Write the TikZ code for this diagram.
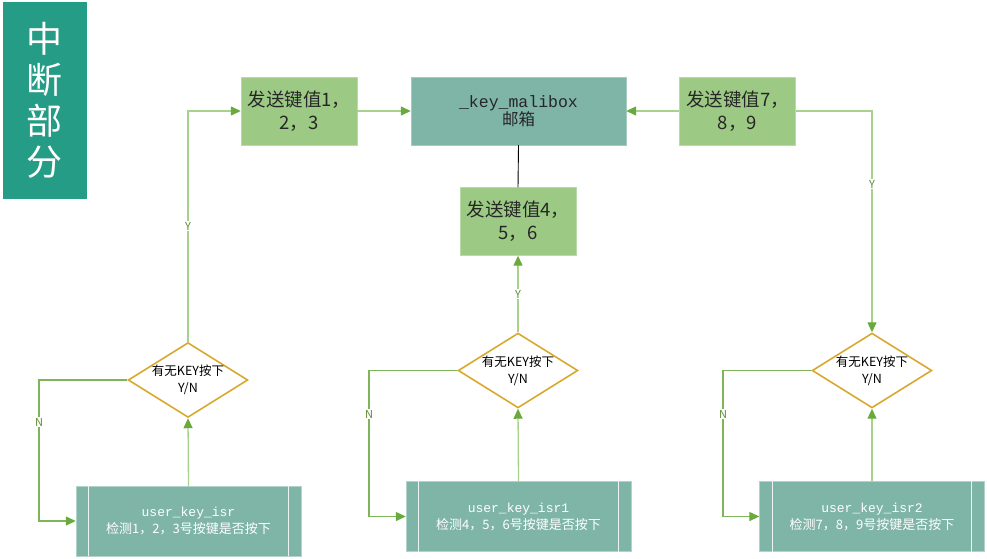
\documentclass[tikz,border=0pt]{standalone}
\usepackage{fontspec}
\setmainfont{Noto Sans CJK SC}
\newfontfamily\monof{Liberation Mono}
\usetikzlibrary{shapes.geometric,arrows.meta}
\definecolor{titlec}{HTML}{249C86}
\definecolor{greenbox}{HTML}{9CCA84}
\definecolor{tealbox}{HTML}{7FB5A7}
\definecolor{goldc}{HTML}{D9A82E}
\definecolor{lightln}{HTML}{A9D18E}
\definecolor{darkln}{HTML}{7FB55A}
\definecolor{tipc}{HTML}{6AAA3C}
\definecolor{lblc}{HTML}{5B8C32}
\tikzset{
  sendbox/.style={rectangle, fill=greenbox, draw=greenbox!70!white, minimum width=116pt, minimum height=68pt, inner sep=0pt, align=center, text=black!85, font=\fontsize{18.5}{23}\selectfont},
  mailbox/.style={rectangle, fill=tealbox, draw=tealbox!70!white, minimum width=215pt, minimum height=68pt, inner sep=0pt, align=center, text=black!85},
  procbox/.style={rectangle, fill=tealbox, draw=tealbox!60!white, minimum width=225pt, minimum height=70pt, inner sep=0pt, align=center, text=white, font=\fontsize{13}{17}\selectfont},
  decbox/.style={diamond, draw=goldc, line width=1.6pt, fill=white, minimum width=118pt, minimum height=72pt, inner sep=0pt, aspect=1.6, align=center, font=\fontsize{12.5}{17}\selectfont},
  flow/.style={draw=lightln, line width=1.3pt, -{Triangle[length=10pt,width=9pt,fill=tipc,color=tipc]}},
  flowdark/.style={draw=darkln, line width=1.3pt, -{Triangle[length=10pt,width=9pt,fill=tipc,color=tipc]}},
  lbl/.style={fill=white, inner sep=1pt, text=lblc, font=\fontsize{11}{13}\selectfont\rmfamily},
}
\begin{document}
\begin{tikzpicture}[x=1pt,y=-1pt]
\useasboundingbox (0,0) rectangle (987,558);
% title
\node[rectangle, fill=titlec, minimum width=84pt, minimum height=197pt, inner sep=0pt, text=white, align=center, font=\fontsize{36}{41}\selectfont] (title) at (45,100.5) {中\\断\\部\\分};
% top row
\node[sendbox] (sa) at (299,111) {发送键值1，\\2，3};
\node[mailbox] (mb) at (518.5,111) {{\monof\fontsize{16.5}{22}\selectfont \_key\_malibox}\\{\fontsize{16.5}{22}\selectfont 邮箱}};
\node[sendbox] (sc) at (737.5,111) {发送键值7，\\8，9};
\node[sendbox] (sb) at (518,221.5) {发送键值4，\\5，6};
% diamonds
\node[decbox] (d1) at (188,380) {有无KEY按下\\Y/N};
\node[decbox] (d2) at (518,370.5) {有无KEY按下\\Y/N};
\node[decbox] (d3) at (872,370.5) {有无KEY按下\\Y/N};
% process boxes
\node[procbox] (p1) at (188.5,521) {{\monof user\_key\_isr}\\检测1，2，3号按键是否按下};
\node[procbox] (p2) at (518.5,516.5) {{\monof user\_key\_isr1}\\检测4，5，6号按键是否按下};
\node[procbox] (p3) at (872,516.5) {{\monof user\_key\_isr2}\\检测7，8，9号按键是否按下};
\foreach \p in {p1,p2,p3}{
  \draw[white!85!tealbox, line width=1.2pt] ([xshift=13pt]\p.north west) -- ([xshift=13pt]\p.south west);
  \draw[white!85!tealbox, line width=1.2pt] ([xshift=-13pt]\p.north east) -- ([xshift=-13pt]\p.south east);
}
% connectors top
\draw[flow] (sa.east) -- (mb.west);
\draw[flow] (sc.west) -- (mb.east);
\draw[black, line width=0.9pt] (mb.south) -- (sb.north);
% column 1
\draw[flow] (p1.north) -- (d1.south);
\draw[flow] (d1.north) -- (d1.north |- sa.west) node[lbl, pos=0.5] {Y} -- (sa.west);
\coordinate (n1a) at (39,380);
\coordinate (n1b) at (39,521);
\draw[flowdark] (d1.west) -- (n1a) -- (n1b) node[lbl, pos=0.3] {N} -- (p1.west);
% column 2
\draw[flow] (p2.north) -- (d2.south);
\draw[flow] (d2.north) -- (sb.south) node[lbl, pos=0.5] {Y};
\coordinate (n2a) at (369,370.5);
\coordinate (n2b) at (369,516.5);
\draw[flowdark] (d2.west) -- (n2a) -- (n2b) node[lbl, pos=0.3] {N} -- (p2.west);
% column 3
\draw[flow] (p3.north) -- (d3.south);
\coordinate (c3) at (872,111);
\draw[flow] (sc.east) -- (c3) -- (d3.north) node[lbl, pos=0.33] {Y};
\coordinate (n3a) at (723,370.5);
\coordinate (n3b) at (723,516.5);
\draw[flowdark] (d3.west) -- (n3a) -- (n3b) node[lbl, pos=0.3] {N} -- (p3.west);
\end{tikzpicture}
\end{document}
